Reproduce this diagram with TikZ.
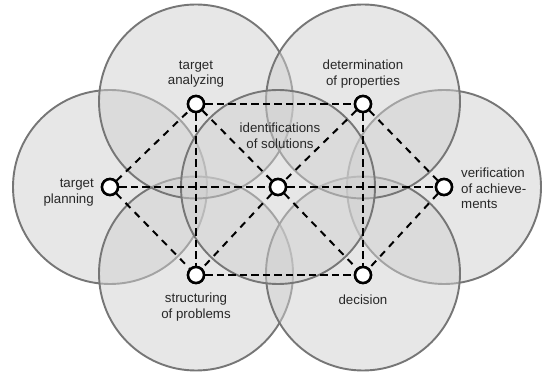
\documentclass[tikz,border=0pt]{standalone}
\usepackage{fontspec}
\setmainfont{Liberation Sans}
\begin{document}
\begin{tikzpicture}[x=1pt,y=1pt,
  zone/.style={draw=zoneline, line width=1.9pt, fill=zonefill, fill opacity=0.5},
  station/.style={circle, draw=black, line width=2.5pt, fill=white, minimum size=16pt, inner sep=0pt},
  lbl/.style={inner sep=0pt, font=\fontsize{13.3}{15.5}\selectfont, text=labeltext},
  axislink/.style={line width=2.6pt, dash pattern=on 7.5pt off 4pt},
  diaglink/.style={line width=2pt, dash pattern=on 7pt off 6pt}]
\definecolor{zonefill}{RGB}{208,208,208}
\definecolor{zoneline}{RGB}{118,118,118}
\definecolor{labeltext}{RGB}{40,40,40}
\useasboundingbox (0,0) rectangle (544,375);

% overlapping fields of the seven phases
\fill[white] (0,0) rectangle (544,375);
\draw[zone] (110,188) circle (97);
\draw[zone] (444,188) circle (97);
\draw[zone] (196,101.5) circle (97);
\draw[zone] (363,101.5) circle (97);
\draw[zone] (196,273.5) circle (97);
\draw[zone] (363,273.5) circle (97);
\draw[zone] (278,188) circle (97);

% phase stations
\node[station] (A) at (196,271) {};
\node[station] (D) at (363,271) {};
\node[station] (P) at (110,188) {};
\node[station] (C) at (278,188) {};
\node[station] (V) at (444,188) {};
\node[station] (S) at (196,100) {};
\node[station] (E) at (363,100) {};

% links between the stations
\draw[axislink] (A) -- (D);
\draw[axislink] (P) -- (C);
\draw[axislink] (C) -- (V);
\draw[axislink] (S) -- (E);
\draw[axislink] (A) -- (S);
\draw[axislink] (D) -- (E);
\draw[diaglink] (P) -- (A);
\draw[diaglink] (P) -- (S);
\draw[diaglink] (A) -- (C);
\draw[diaglink] (D) -- (C);
\draw[diaglink] (C) -- (S);
\draw[diaglink] (C) -- (E);
\draw[diaglink] (D) -- (V);
\draw[diaglink] (V) -- (E);

% redraw stations above the links
\foreach \p in {A,D,P,C,V,S,E}
  \node[station] at (\p) {};

% phase labels
\node[lbl, align=center] (lA) at (196,301) {target\\analyzing};
\node[lbl, align=center] (lD) at (363,301) {determination\\of properties};
\node[lbl, align=center] (lC) at (280,239.5) {identifications\\of solutions};
\node[lbl, align=right, anchor=east] (lP) at (94,182.5) {target\\planning};
\node[lbl, align=left, anchor=west] (lV) at (461,186.5) {verification\\of achieve-\\ments};
\node[lbl, align=center] (lS) at (196,68) {structuring\\of problems};
\node[lbl, align=center] (lE) at (363,75) {decision};
\end{tikzpicture}
\end{document}
